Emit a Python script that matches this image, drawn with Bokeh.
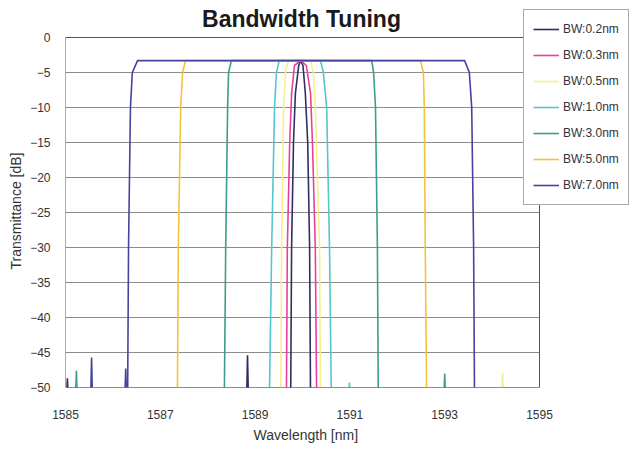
from bokeh.plotting import figure
from bokeh.models import FixedTicker, Legend, LegendItem, Label, Title
from bokeh.embed import file_html
from bokeh.resources import INLINE

# ---- data (wavelength in nm, transmittance in dB) ----
labels = ["BW:0.2nm", "BW:0.3nm", "BW:0.5nm", "BW:1.0nm", "BW:3.0nm", "BW:5.0nm", "BW:7.0nm"]
colors = ["#2E2E62", "#E8409A", "#F6F08C", "#55C6CC", "#3D9C8C", "#F5C23A", "#44449C"]

wl_02 = [1585, 1585.02, 1585.04, 1585.06, 1588.82, 1588.84, 1588.86, 1589.75, 1589.77, 1589.81, 1589.85,
         1589.92, 1589.96, 1590.01, 1590.06, 1590.11, 1590.15, 1590.17, 1595]
db_02 = [-52, -52, -48.7, -52, -52, -45.4, -52, -52, -30, -15, -8, -4, -3.3, -4, -8, -15, -30, -52, -52]

wl_03 = [1585, 1589.66, 1589.68, 1589.73, 1589.77, 1589.83, 1589.96, 1590.08, 1590.17, 1590.21, 1590.27,
         1590.30, 1595]
db_03 = [-52, -52, -30, -15, -8, -4, -3.3, -4, -8, -15, -30, -52, -52]

wl_05 = [1585, 1589.54, 1589.56, 1589.60, 1589.64, 1589.70, 1590.17, 1590.23, 1590.27, 1590.36, 1590.38,
         1594.20, 1594.22, 1594.24, 1595]
db_05 = [-52, -52, -30, -10, -5, -3.3, -3.3, -5, -10, -30, -52, -52, -47.9, -52, -52]

wl_10 = [1585, 1589.30, 1589.35, 1589.41, 1589.45, 1589.51, 1590.38, 1590.44, 1590.51, 1590.57, 1590.61,
         1590.97, 1590.99, 1591.01, 1595]
db_10 = [-52, -52, -30, -10, -5, -3.3, -3.3, -5, -10, -30, -52, -52, -49.3, -52, -52]

wl_30 = [1585, 1585.21, 1585.23, 1585.25, 1588.35, 1588.38, 1588.42, 1588.44, 1588.50, 1591.46, 1591.50,
         1591.54, 1591.58, 1591.60, 1592.98, 1593.00, 1593.02, 1595]
db_30 = [-52, -52, -47.6, -52, -52, -30, -10, -5, -3.3, -3.3, -5, -10, -30, -52, -52, -48, -52, -52]

wl_50 = [1585, 1587.36, 1587.38, 1587.43, 1587.47, 1587.53, 1592.49, 1592.55, 1592.57, 1592.59, 1592.62, 1595]
db_50 = [-52, -52, -30, -10, -5, -3.3, -3.3, -5, -10, -30, -52, -52]

wl_70 = [1585, 1585.53, 1585.55, 1585.57, 1586.25, 1586.27, 1586.29, 1586.31, 1586.33, 1586.37, 1586.41,
         1586.52, 1593.42, 1593.52, 1593.57, 1593.61, 1593.63, 1595]
db_70 = [-52, -52, -45.7, -52, -52, -47.3, -52, -52, -30, -10, -5, -3.3, -3.3, -5, -10, -30, -52, -52]

x_ticks = [1585, 1587, 1589, 1591, 1593, 1595]
y_ticks = [0, -5, -10, -15, -20, -25, -30, -35, -40, -45, -50]

series = [(wl_02, db_02), (wl_03, db_03), (wl_05, db_05), (wl_10, db_10),
          (wl_30, db_30), (wl_50, db_50), (wl_70, db_70)]

FONT = "Liberation Sans"
TXT = "#333333"

# plot area (1585-1595 nm, -50..0 dB) is 474 x 350 px; the frame is extended
# to the right and upward so that the legend can overlap the plot corner.
FRAME_W, FRAME_H = 575, 379
PLOT_W, PLOT_H = 474, 350
x_end = x_ticks[0] + (x_ticks[-1] - x_ticks[0]) * FRAME_W / PLOT_W
y_end = y_ticks[-1] + (y_ticks[0] - y_ticks[-1]) * FRAME_H / PLOT_H

p = figure(width=640, height=458, output_backend="svg", toolbar_location=None,
           x_range=(x_ticks[0], x_end), y_range=(y_ticks[-1], y_end),
           min_border_left=65, min_border_right=0, min_border_top=8, min_border_bottom=71)

# horizontal grid lines and plot-area border
n = len(y_ticks)
p.segment(x0=[x_ticks[0]] * n, x1=[x_ticks[-1]] * n, y0=y_ticks, y1=y_ticks,
          line_color="#8c8c8c", line_width=1)

items = []
for (wl, db), lab, col in zip(series, labels, colors):
    r = p.line(wl, db, line_color=col, line_width=1.6)
    items.append(LegendItem(label=lab, renderers=[r]))

p.quad(left=[x_ticks[0]], right=[x_ticks[-1]], top=[y_ticks[0]], bottom=[y_ticks[-1]],
       fill_color=None, line_color="#555555", line_width=1)

p.xgrid.visible = False
p.ygrid.visible = False
p.outline_line_color = None
p.background_fill_color = "white"
p.border_fill_color = "white"

# axes
for ax in (p.xaxis[0], p.yaxis[0]):
    ax.axis_line_color = None
    ax.major_tick_line_color = None
    ax.minor_tick_line_color = None
    ax.major_label_text_font = FONT
    ax.major_label_text_font_size = "12px"
    ax.major_label_text_color = TXT

p.xaxis.ticker = FixedTicker(ticks=x_ticks)
p.yaxis.ticker = FixedTicker(ticks=y_ticks)
p.xaxis.major_label_standoff = 16
p.yaxis.major_label_standoff = 9

# axis titles
xt = Title(text="Wavelength [nm]", align="left", offset=188, text_font=FONT,
           text_font_size="14px", text_font_style="normal", text_color=TXT, standoff=6)
p.add_layout(xt, "below")
yt = Title(text="Transmittance [dB]", align="left", offset=118, text_font=FONT,
           text_font_size="14px", text_font_style="normal", text_color=TXT, standoff=8)
p.add_layout(yt, "left")

# chart title
p.add_layout(Label(x=236, y=369, x_units="screen", y_units="screen", text="Bandwidth Tuning",
                   text_align="center", text_baseline="middle", text_font=FONT,
                   text_font_size="23px", text_font_style="bold", text_color="#1a1a1a"))

# legend
lg = Legend(items=items, location=(458, 182))
lg.label_text_font = FONT
lg.label_text_font_size = "12px"
lg.label_text_color = TXT
lg.glyph_width = 26
lg.glyph_height = 20
lg.label_height = 20
lg.spacing = 6
lg.padding = 9
lg.margin = 0
lg.label_standoff = 4
lg.border_line_color = "#555555"
lg.border_line_width = 1
lg.background_fill_color = "white"
lg.background_fill_alpha = 1.0
p.add_layout(lg, "center")

open("out.html", "w").write(file_html(p, INLINE))
